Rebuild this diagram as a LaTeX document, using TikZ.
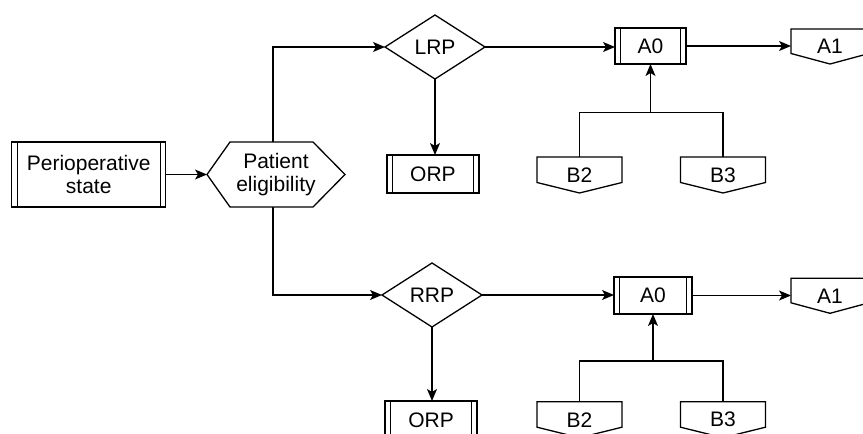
\documentclass[tikz,border=0pt]{standalone}
\usepackage{fontspec}
\setmainfont{Liberation Sans}
\usetikzlibrary{shapes.geometric,arrows.meta}
\begin{document}
\begin{tikzpicture}[x=1pt,y=-1pt,
  every node/.style={font=\fontsize{21}{23.5}\selectfont, align=center, inner sep=0pt, outer sep=0pt},
  shapeline/.style={line width=1.3pt, draw=black},
  conn/.style={shapeline, -{Stealth[length=12pt,width=10pt,inset=3pt]}},
  procbox/.style={shapeline, rectangle,
    path picture={
      \draw[shapeline] ([xshift=5.5pt]path picture bounding box.north west) -- ([xshift=5.5pt]path picture bounding box.south west);
      \draw[shapeline] ([xshift=-5.5pt]path picture bounding box.north east) -- ([xshift=-5.5pt]path picture bounding box.south east);
    }},
  decision/.style={shapeline, diamond, minimum width=100pt, minimum height=64pt},
  offpage/.style={minimum width=85pt, minimum height=36pt},
]
\clip (0,0) rectangle (863,434);

% start state and eligibility check
\node[procbox, minimum width=154pt, minimum height=65pt] (peri) at (88.7,174.5) {Perioperative\\state};
\node[minimum width=138pt, minimum height=65pt] (elig) at (276,174.5) {Patient\\eligibility};
\draw[shapeline] (elig.west) -- ([xshift=23pt]elig.north west) -- ([xshift=-32pt]elig.north east)
  -- (elig.east) -- ([xshift=-32pt]elig.south east) -- ([xshift=23pt]elig.south west) -- cycle;

% upper branch
\node[decision] (lrp) at (435,47) {LRP};
\node[procbox, minimum width=92pt, minimum height=38pt] (orpa) at (433,174) {ORP};
\node[procbox, minimum width=71pt, minimum height=36pt] (a0a) at (650.5,46) {A0};
\node[offpage, minimum width=78pt, minimum height=35pt] (a1a) at (830,46.5) {A1};
\node[offpage] (b2a) at (579.5,175) {B2};
\node[offpage] (b3a) at (723,175) {B3};

% lower branch
\node[decision] (rrp) at (432,295) {RRP};
\node[procbox, minimum width=92pt, minimum height=38pt] (orpb) at (431,420) {ORP};
\node[procbox, minimum width=78pt, minimum height=37pt] (a0b) at (653,295.5) {A0};
\node[offpage, minimum width=78pt, minimum height=35pt] (a1b) at (830,295.8) {A1};
\node[offpage] (b2b) at (579.5,419.7) {B2};
\node[offpage] (b3b) at (723,419.7) {B3};

% off-page connector outlines
\foreach \n in {a1a,b2a,b3a,a1b,b2b,b3b}
  \draw[shapeline] (\n.north west) -- (\n.north east) -- ([yshift=10.5pt]\n.south east)
    -- (\n.south) -- ([yshift=10.5pt]\n.south west) -- cycle;

% connectors
\draw[conn] (peri.east) -- (elig.west);
\draw[conn] ([xshift=-3pt]elig.north) |- (lrp.west);
\draw[conn] ([xshift=-3pt]elig.south) |- (rrp.west);

\draw[conn] (lrp.south) -- (lrp.south |- orpa.north);
\draw[conn] (lrp.east) -- (lrp.east -| a0a.west);
\draw[conn] (a0a.east) -- (a0a.east -| a1a.west);
\coordinate (ja) at (a0a.south |- 0,112.5);
\draw[shapeline] (b2a.north) |- (ja) -| (b3a.north);
\draw[conn] (ja) -- (a0a.south);

\draw[conn] (rrp.south) -- (rrp.south |- orpb.north);
\draw[conn] (rrp.east) -- (rrp.east -| a0b.west);
\draw[conn] (a0b.east) -- (a0b.east -| a1b.west);
\coordinate (jb) at (a0b.south |- 0,361);
\draw[shapeline] (b2b.north) |- (jb) -| (b3b.north);
\draw[conn] (jb) -- (a0b.south);
\end{tikzpicture}
\end{document}
